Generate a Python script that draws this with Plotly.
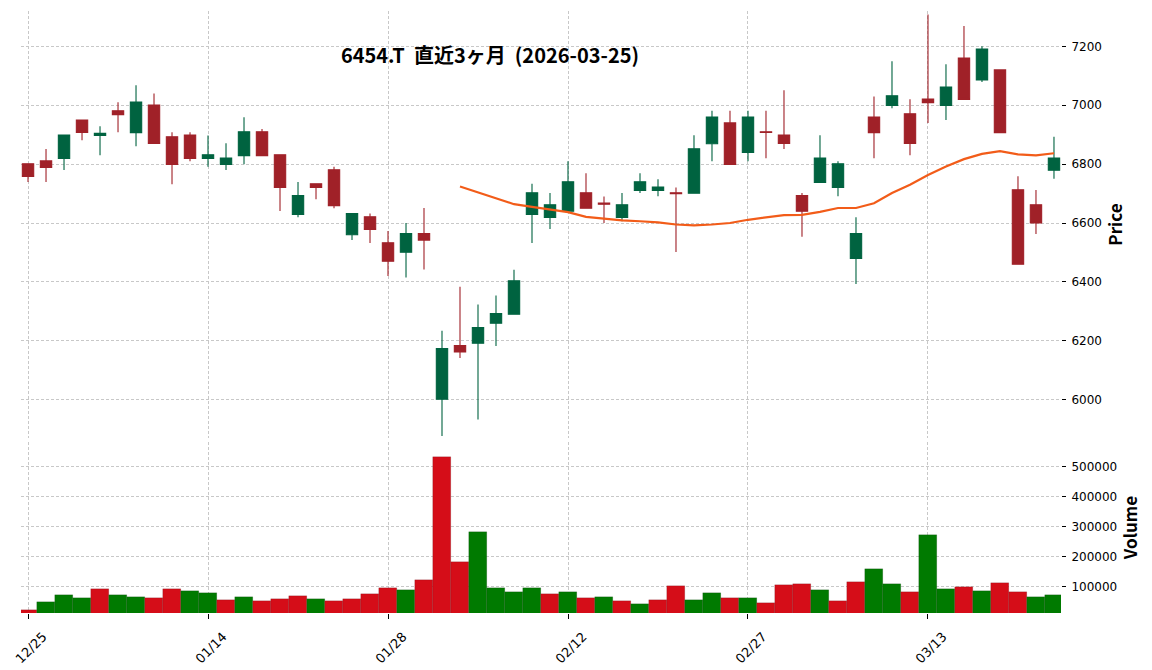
import pandas as pd
import plotly.graph_objects as go

# 6454.T daily bars, last 3 months
dates = [
    "2025-12-25", "2025-12-26", "2025-12-29", "2025-12-30", "2026-01-05",
    "2026-01-06", "2026-01-07", "2026-01-08", "2026-01-09", "2026-01-13",
    "2026-01-14", "2026-01-15", "2026-01-16", "2026-01-19", "2026-01-20",
    "2026-01-21", "2026-01-22", "2026-01-23", "2026-01-26", "2026-01-27",
    "2026-01-28", "2026-01-29", "2026-01-30", "2026-02-02", "2026-02-03",
    "2026-02-04", "2026-02-05", "2026-02-06", "2026-02-09", "2026-02-10",
    "2026-02-12", "2026-02-13", "2026-02-16", "2026-02-17", "2026-02-18",
    "2026-02-19", "2026-02-20", "2026-02-24", "2026-02-25", "2026-02-26",
    "2026-02-27", "2026-03-02", "2026-03-03", "2026-03-04", "2026-03-05",
    "2026-03-06", "2026-03-09", "2026-03-10", "2026-03-11", "2026-03-12",
    "2026-03-13", "2026-03-16", "2026-03-17", "2026-03-18", "2026-03-19",
    "2026-03-23", "2026-03-24", "2026-03-25",
]
opens = [
    6801, 6811, 6819, 6950, 6897, 6981, 6907, 7001, 6893, 6899,
    6819, 6799, 6829, 6910, 6832, 6629, 6733, 6781, 6560, 6621,
    6533, 6501, 6564, 6002, 6184, 6192, 6260, 6290, 6629, 6619,
    6640, 6703, 6668, 6619, 6711, 6711, 6703, 6701, 6869, 6940,
    6840, 6910, 6899, 6693, 6738, 6721, 6480, 6960, 6999, 6971,
    7021, 6999, 7160, 7086, 7120, 6713, 6662, 6779,
]
highs = [
    6801, 6851, 6899, 6950, 6929, 7010, 7068, 7040, 6908, 6908,
    6897, 6871, 6959, 6919, 6832, 6739, 6733, 6791, 6632, 6632,
    6573, 6600, 6651, 6234, 6384, 6323, 6354, 6441, 6733, 6702,
    6810, 6769, 6690, 6702, 6769, 6749, 6721, 6898, 6981, 6981,
    6981, 6981, 7051, 6702, 6898, 6810, 6620, 7030, 7149, 7020,
    7308, 7139, 7269, 7200, 7120, 6759, 6712, 6893,
]
lows = [
    6739, 6739, 6780, 6881, 6830, 6908, 6861, 6870, 6732, 6810,
    6791, 6780, 6800, 6829, 6641, 6620, 6681, 6650, 6542, 6532,
    6420, 6415, 6442, 5877, 6142, 5933, 6182, 6290, 6532, 6580,
    6640, 6650, 6600, 6606, 6702, 6691, 6502, 6701, 6810, 6799,
    6810, 6820, 6851, 6553, 6738, 6691, 6393, 6820, 6990, 6830,
    6940, 6950, 7020, 7079, 6907, 6460, 6563, 6750,
]
closes = [
    6758, 6789, 6899, 6908, 6905, 6968, 7011, 6870, 6799, 6819,
    6832, 6821, 6910, 6829, 6721, 6693, 6721, 6659, 6632, 6578,
    6470, 6564, 6542, 6174, 6162, 6245, 6293, 6404, 6703, 6662,
    6740, 6650, 6664, 6662, 6740, 6722, 6700, 6852, 6960, 6799,
    6960, 6908, 6870, 6640, 6821, 6801, 6564, 6907, 7032, 6870,
    7009, 7062, 7020, 7191, 6907, 6460, 6600, 6821,
]
volumes = [
    21000, 47800, 71100, 61100, 91100, 71100, 64400, 61100, 91100, 84400,
    77800, 54400, 64400, 51100, 57800, 67800, 57800, 51100, 57800, 74400,
    94400, 87800, 121100, 531100, 181100, 281100, 94400, 81100, 94400, 74400,
    81100, 61100, 64400, 51100, 41100, 54400, 101100, 54400, 77800, 61100,
    61100, 44400, 104400, 107800, 87800, 51100, 114400, 157800, 107800, 81100,
    271100, 91100, 97800, 84400, 111100, 81100, 64400, 71100,
]
# 25-day moving average as drawn (starts on the 25th bar)
ma25 = [None] * 24 + [
    6724, 6704, 6684, 6664, 6655, 6646, 6637, 6621, 6615, 6609,
    6606, 6602, 6595, 6592, 6595, 6600, 6611, 6619, 6627, 6628,
    6638, 6651, 6651, 6667, 6702, 6730, 6763, 6792, 6817, 6835,
    6844, 6833, 6830, 6837,
]
tick_labels = ["12/25", "01/14", "01/28", "02/12", "02/27", "03/13"]
price_ticks = [6000, 6200, 6400, 6600, 6800, 7000, 7200]
volume_ticks = [100000, 200000, 300000, 400000, 500000]

UP, DOWN = "#006340", "#a02128"
VOL_UP, VOL_DOWN = "#007a00", "#d50d18"
GRID = "#c8c8c8"
TICK_FONT = dict(family="DejaVu Sans", size=12, color="black")
LABEL_FONT = dict(family="Noto Sans CJK JP", size=17, color="black")

df = pd.DataFrame({
    "date": dates, "open": opens, "high": highs, "low": lows,
    "close": closes, "volume": volumes, "ma25": ma25,
})
# volume bars are coloured by close-to-close change
prev_close = df["close"].shift(1)
vol_colors = [VOL_UP if c > p else VOL_DOWN for c, p in zip(df["close"], prev_close)]

fig = go.Figure()

fig.add_trace(go.Candlestick(
    x=df["date"], open=df["open"], high=df["high"], low=df["low"], close=df["close"],
    increasing=dict(line=dict(color=UP, width=1.1), fillcolor=UP),
    decreasing=dict(line=dict(color=DOWN, width=1.1), fillcolor=DOWN),
    whiskerwidth=0, xaxis="x2", yaxis="y2", showlegend=False, hoverinfo="skip",
))
fig.add_trace(go.Scatter(
    x=df["date"], y=df["ma25"], mode="lines",
    line=dict(color="#f25c19", width=2.2),
    xaxis="x2", yaxis="y2", showlegend=False, hoverinfo="skip",
))
fig.add_trace(go.Bar(
    x=df["date"], y=df["volume"],
    marker=dict(color=vol_colors, line=dict(color="rgba(0,0,0,0.25)", width=0.5)),
    xaxis="x", yaxis="y", showlegend=False, hoverinfo="skip",
))

tick_dates = dates[::10]
grid = dict(showgrid=True, gridcolor=GRID, griddash="3px,2px", gridwidth=0.8)
x_common = dict(
    type="category", range=[-0.39, len(dates) - 1 + 0.39],
    tickmode="array", tickvals=tick_dates, automargin=False,
    showline=False, zeroline=False, **grid,
)
y_common = dict(
    side="right", tickmode="array", tickformat="d", automargin=False,
    ticks="outside", ticklen=4, tickcolor="black", tickfont=TICK_FONT,
    ticklabelstandoff=3, showline=False, zeroline=False, **grid,
)

fig.update_layout(
    width=1152, height=670,
    margin=dict(l=21, r=91, t=11, b=57),
    paper_bgcolor="white", plot_bgcolor="white",
    bargap=0, boxgap=0.3, boxgroupgap=0.1,
    title=dict(
        text="6454.T\u00a0\u00a0直近3ヶ月\u00a0\u00a0(2026-03-25)",
        font=dict(family="Noto Sans CJK JP", size=20, color="black", weight="bold"),
        x=490 / 1152, xanchor="center", xref="container",
        y=1 - 56 / 670, yanchor="middle", yref="container",
    ),
    xaxis=dict(
        **x_common, anchor="y", domain=[0, 1],
        ticktext=tick_labels, tickangle=-45, ticks="outside", ticklen=5,
        tickcolor="black", tickfont=dict(TICK_FONT, size=13),
        ticklabelshift=15, ticklabelstandoff=5,
    ),
    xaxis2=dict(
        **x_common, anchor="y2", domain=[0, 1], matches="x",
        showticklabels=False, ticks="", rangeslider=dict(visible=False),
    ),
    yaxis=dict(
        **y_common, domain=[0, 0.284], range=[12000, 581000], tickvals=volume_ticks,
        title=dict(text="Volume", font=dict(**LABEL_FONT, weight="bold"), standoff=6),
    ),
    yaxis2=dict(
        **y_common, domain=[0.2907, 1], range=[5870, 7320], tickvals=price_ticks,
        title=dict(text="Price", font=dict(**LABEL_FONT, weight="bold"), standoff=6),
    ),
)

# the page body has a default 8px margin; drop it so the figure fills the window
fig.write_html(
    "out.html",
    config={"displayModeBar": False},
    post_script="document.body.style.margin = '0';",
)
